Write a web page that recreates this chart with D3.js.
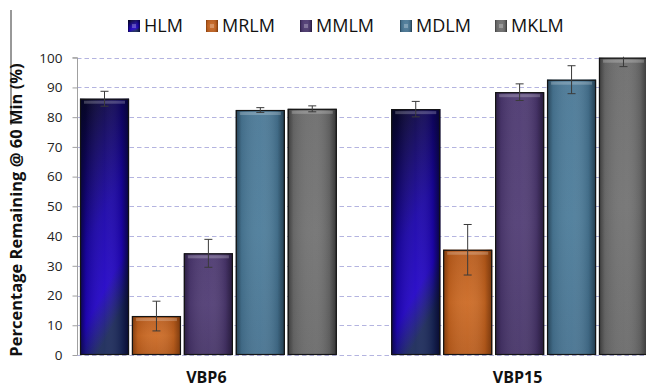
<!DOCTYPE html>
<html><head><meta charset="utf-8">
<script src="https://cdn.jsdelivr.net/npm/d3@7"></script>
<style>body{margin:0;background:#fff;}svg{display:block;}</style>
</head><body>
<svg id="c" width="646" height="388"></svg>
<script>
const categories = ["VBP6", "VBP15"];
const seriesNames = ["HLM", "MRLM", "MMLM", "MDLM", "MKLM"];
const hlmValues = [86.2, 82.7];
const mrlmValues = [13.1, 35.4];
const mmlmValues = [34.2, 88.4];
const mdlmValues = [82.4, 92.6];
const mklmValues = [82.8, 100];
const hlmErr = [2.5, 2.6];
const mrlmErr = [5.0, 8.5];
const mmlmErr = [4.7, 2.8];
const mdlmErr = [0.8, 4.7];
const mklmErr = [1.0, 3.0];
const yTicks = [0, 10, 20, 30, 40, 50, 60, 70, 80, 90, 100];
const yTitle = "Percentage Remaining @ 60 Min (%)";

const seriesValues = [hlmValues, mrlmValues, mmlmValues, mdlmValues, mklmValues];
const seriesErr = [hlmErr, mrlmErr, mmlmErr, mdlmErr, mklmErr];
const colors = {
  HLM:  {top:"#06061c", mid:"#2204c6", bot:"#1b2a5a", edge:"#05052a"},
  MRLM: {top:"#b85a1a", mid:"#cc6a24", bot:"#b95c1c", edge:"#6a300a"},
  MMLM: {top:"#4c3870", mid:"#503c74", bot:"#463468", edge:"#1e1430"},
  MDLM: {top:"#4a7896", mid:"#4c7c9a", bot:"#467290", edge:"#1a3040"},
  MKLM: {top:"#6c6c6c", mid:"#727272", bot:"#6a6a6a", edge:"#2a2a2a"}
};

const svg = d3.select("#c");
const defs = svg.append("defs");

const y = d3.scaleLinear().domain([0, 100]).range([355, 57.7]);
const x0 = d3.scaleBand().domain(categories).range([80, 648]).paddingInner(0.175).paddingOuter(0);
const x1 = d3.scaleBand().domain(seriesNames).range([0, x0.bandwidth()]).paddingInner(0.056).paddingOuter(0);

// gradients
seriesNames.forEach(s => {
  const c = colors[s];
  const v = defs.append("linearGradient").attr("id", "v-" + s)
    .attr("x1", 0).attr("y1", 0).attr("x2", s === "HLM" ? 0.35 : 0).attr("y2", 1);
  if (s === "HLM") {
    v.append("stop").attr("offset", 0).attr("stop-color", c.top);
    v.append("stop").attr("offset", 0.55).attr("stop-color", "#1a04a8");
    v.append("stop").attr("offset", 0.82).attr("stop-color", c.mid);
    v.append("stop").attr("offset", 1).attr("stop-color", c.bot);
  } else {
    v.append("stop").attr("offset", 0).attr("stop-color", c.top);
    v.append("stop").attr("offset", 0.5).attr("stop-color", c.mid);
    v.append("stop").attr("offset", 1).attr("stop-color", c.bot);
  }
  const h = defs.append("linearGradient").attr("id", "h-" + s)
    .attr("x1", 0).attr("y1", 0).attr("x2", 1).attr("y2", 0);
  h.append("stop").attr("offset", 0).attr("stop-color", c.edge).attr("stop-opacity", 0.75);
  h.append("stop").attr("offset", 0.12).attr("stop-color", c.edge).attr("stop-opacity", 0.15);
  h.append("stop").attr("offset", 0.5).attr("stop-color", "#ffffff").attr("stop-opacity", 0.05);
  h.append("stop").attr("offset", 0.85).attr("stop-color", c.edge).attr("stop-opacity", 0.2);
  h.append("stop").attr("offset", 1).attr("stop-color", c.edge).attr("stop-opacity", 0.85);
});

defs.append("clipPath").attr("id", "plotclip").append("rect")
  .attr("x", 0).attr("y", y(100) - 1).attr("width", 646).attr("height", 400);

// outer stray border line
svg.append("line").attr("x1", 11).attr("x2", 11).attr("y1", 10).attr("y2", 125)
  .attr("stroke", "#333").attr("stroke-width", 1);

// grid
svg.append("g").selectAll("line").data(yTicks).join("line")
  .attr("x1", 77).attr("x2", 646)
  .attr("y1", d => Math.round(y(d)) + 0.5).attr("y2", d => Math.round(y(d)) + 0.5)
  .attr("stroke", "#b4b4e0").attr("stroke-width", 1.2).attr("stroke-dasharray", "4.5,3");

// y axis
const yAxis = d3.axisLeft(y).tickValues(yTicks).tickSize(5).tickPadding(10);
const ag = svg.append("g").attr("transform", "translate(77.5,0)").call(yAxis);
ag.select(".domain").attr("stroke", "#a0a0a0").attr("d", `M-5,${y(100)}H0V${y(0)}`);
ag.selectAll(".tick line").attr("stroke", "#a0a0a0");
ag.selectAll(".tick text").attr("font-family", "Open Sans, sans-serif").attr("font-size", 13.5)
  .attr("fill", "#222");

// bars
const groups = svg.append("g").selectAll("g").data(categories).join("g")
  .attr("transform", d => `translate(${x0(d)},0)`);

const barData = (ci) => seriesNames.map((s, si) => ({s, v: seriesValues[si][ci], e: seriesErr[si][ci]}));

groups.each(function(cat, ci) {
  const g = d3.select(this);
  const data = barData(ci);
  const bw = x1.bandwidth();
  const bar = g.selectAll("g.bar").data(data).join("g").attr("class", "bar");
  bar.append("rect")
    .attr("x", d => x1(d.s)).attr("y", d => y(d.v)).attr("width", bw)
    .attr("height", d => y(0) - y(d.v)).attr("fill", d => `url(#v-${d.s})`);
  bar.append("rect")
    .attr("x", d => x1(d.s)).attr("y", d => y(d.v)).attr("width", bw)
    .attr("height", d => y(0) - y(d.v)).attr("fill", d => `url(#h-${d.s})`);
  // top bevel highlight
  bar.append("rect")
    .attr("x", d => x1(d.s) + 4).attr("y", d => y(d.v) + 2).attr("width", bw - 8)
    .attr("height", 3).attr("fill", "#ffffff").attr("opacity", 0.22);
  bar.append("rect")
    .attr("x", d => x1(d.s) + 0.5).attr("y", d => y(d.v) + 0.5).attr("width", bw - 1)
    .attr("height", d => y(0) - y(d.v) - 1).attr("fill", "none")
    .attr("stroke", "#141414").attr("stroke-width", 1.2);
  // error bars
  const eb = g.append("g").attr("clip-path", "url(#plotclip)")
    .selectAll("g").data(data).join("g")
    .attr("stroke", "#3a3a3a").attr("stroke-width", 1);
  eb.append("line")
    .attr("x1", d => x1(d.s) + bw / 2).attr("x2", d => x1(d.s) + bw / 2)
    .attr("y1", d => y(d.v + d.e)).attr("y2", d => y(d.v - d.e));
  eb.append("line")
    .attr("x1", d => x1(d.s) + bw / 2 - 4).attr("x2", d => x1(d.s) + bw / 2 + 4)
    .attr("y1", d => y(d.v + d.e)).attr("y2", d => y(d.v + d.e));
  eb.append("line")
    .attr("x1", d => x1(d.s) + bw / 2 - 4).attr("x2", d => x1(d.s) + bw / 2 + 4)
    .attr("y1", d => y(d.v - d.e)).attr("y2", d => y(d.v - d.e));
});

// category labels
svg.append("g").selectAll("text").data(categories).join("text")
  .attr("x", d => x0(d) + x0.bandwidth() / 2 - 2).attr("y", 383)
  .attr("text-anchor", "middle").attr("font-family", "Open Sans, sans-serif")
  .attr("font-weight", "bold").attr("font-size", 16).attr("fill", "#111")
  .text(d => d);

// y title
svg.append("text").attr("transform", "translate(22,210) rotate(-90)")
  .attr("text-anchor", "middle").attr("font-family", "Open Sans, sans-serif")
  .attr("font-weight", "bold").attr("font-size", 16.5).attr("fill", "#111")
  .text(yTitle);

// legend
const legendX = [128, 206, 300, 400, 495];
const lg = svg.append("g").selectAll("g").data(seriesNames).join("g")
  .attr("transform", (d, i) => `translate(${legendX[i]},20)`);
lg.append("rect").attr("width", 12).attr("height", 12).attr("fill", d => `url(#v-${d})`);
lg.append("rect").attr("width", 12).attr("height", 12).attr("fill", d => `url(#h-${d})`);
lg.append("rect").attr("x", 4).attr("y", 4).attr("width", 4).attr("height", 4)
  .attr("fill", "#fff").attr("opacity", 0.25);
lg.append("text").attr("x", 16).attr("y", 11.5).attr("font-family", "Open Sans, sans-serif")
  .attr("font-size", 18).attr("fill", "#111").text(d => d);
</script>
</body></html>
